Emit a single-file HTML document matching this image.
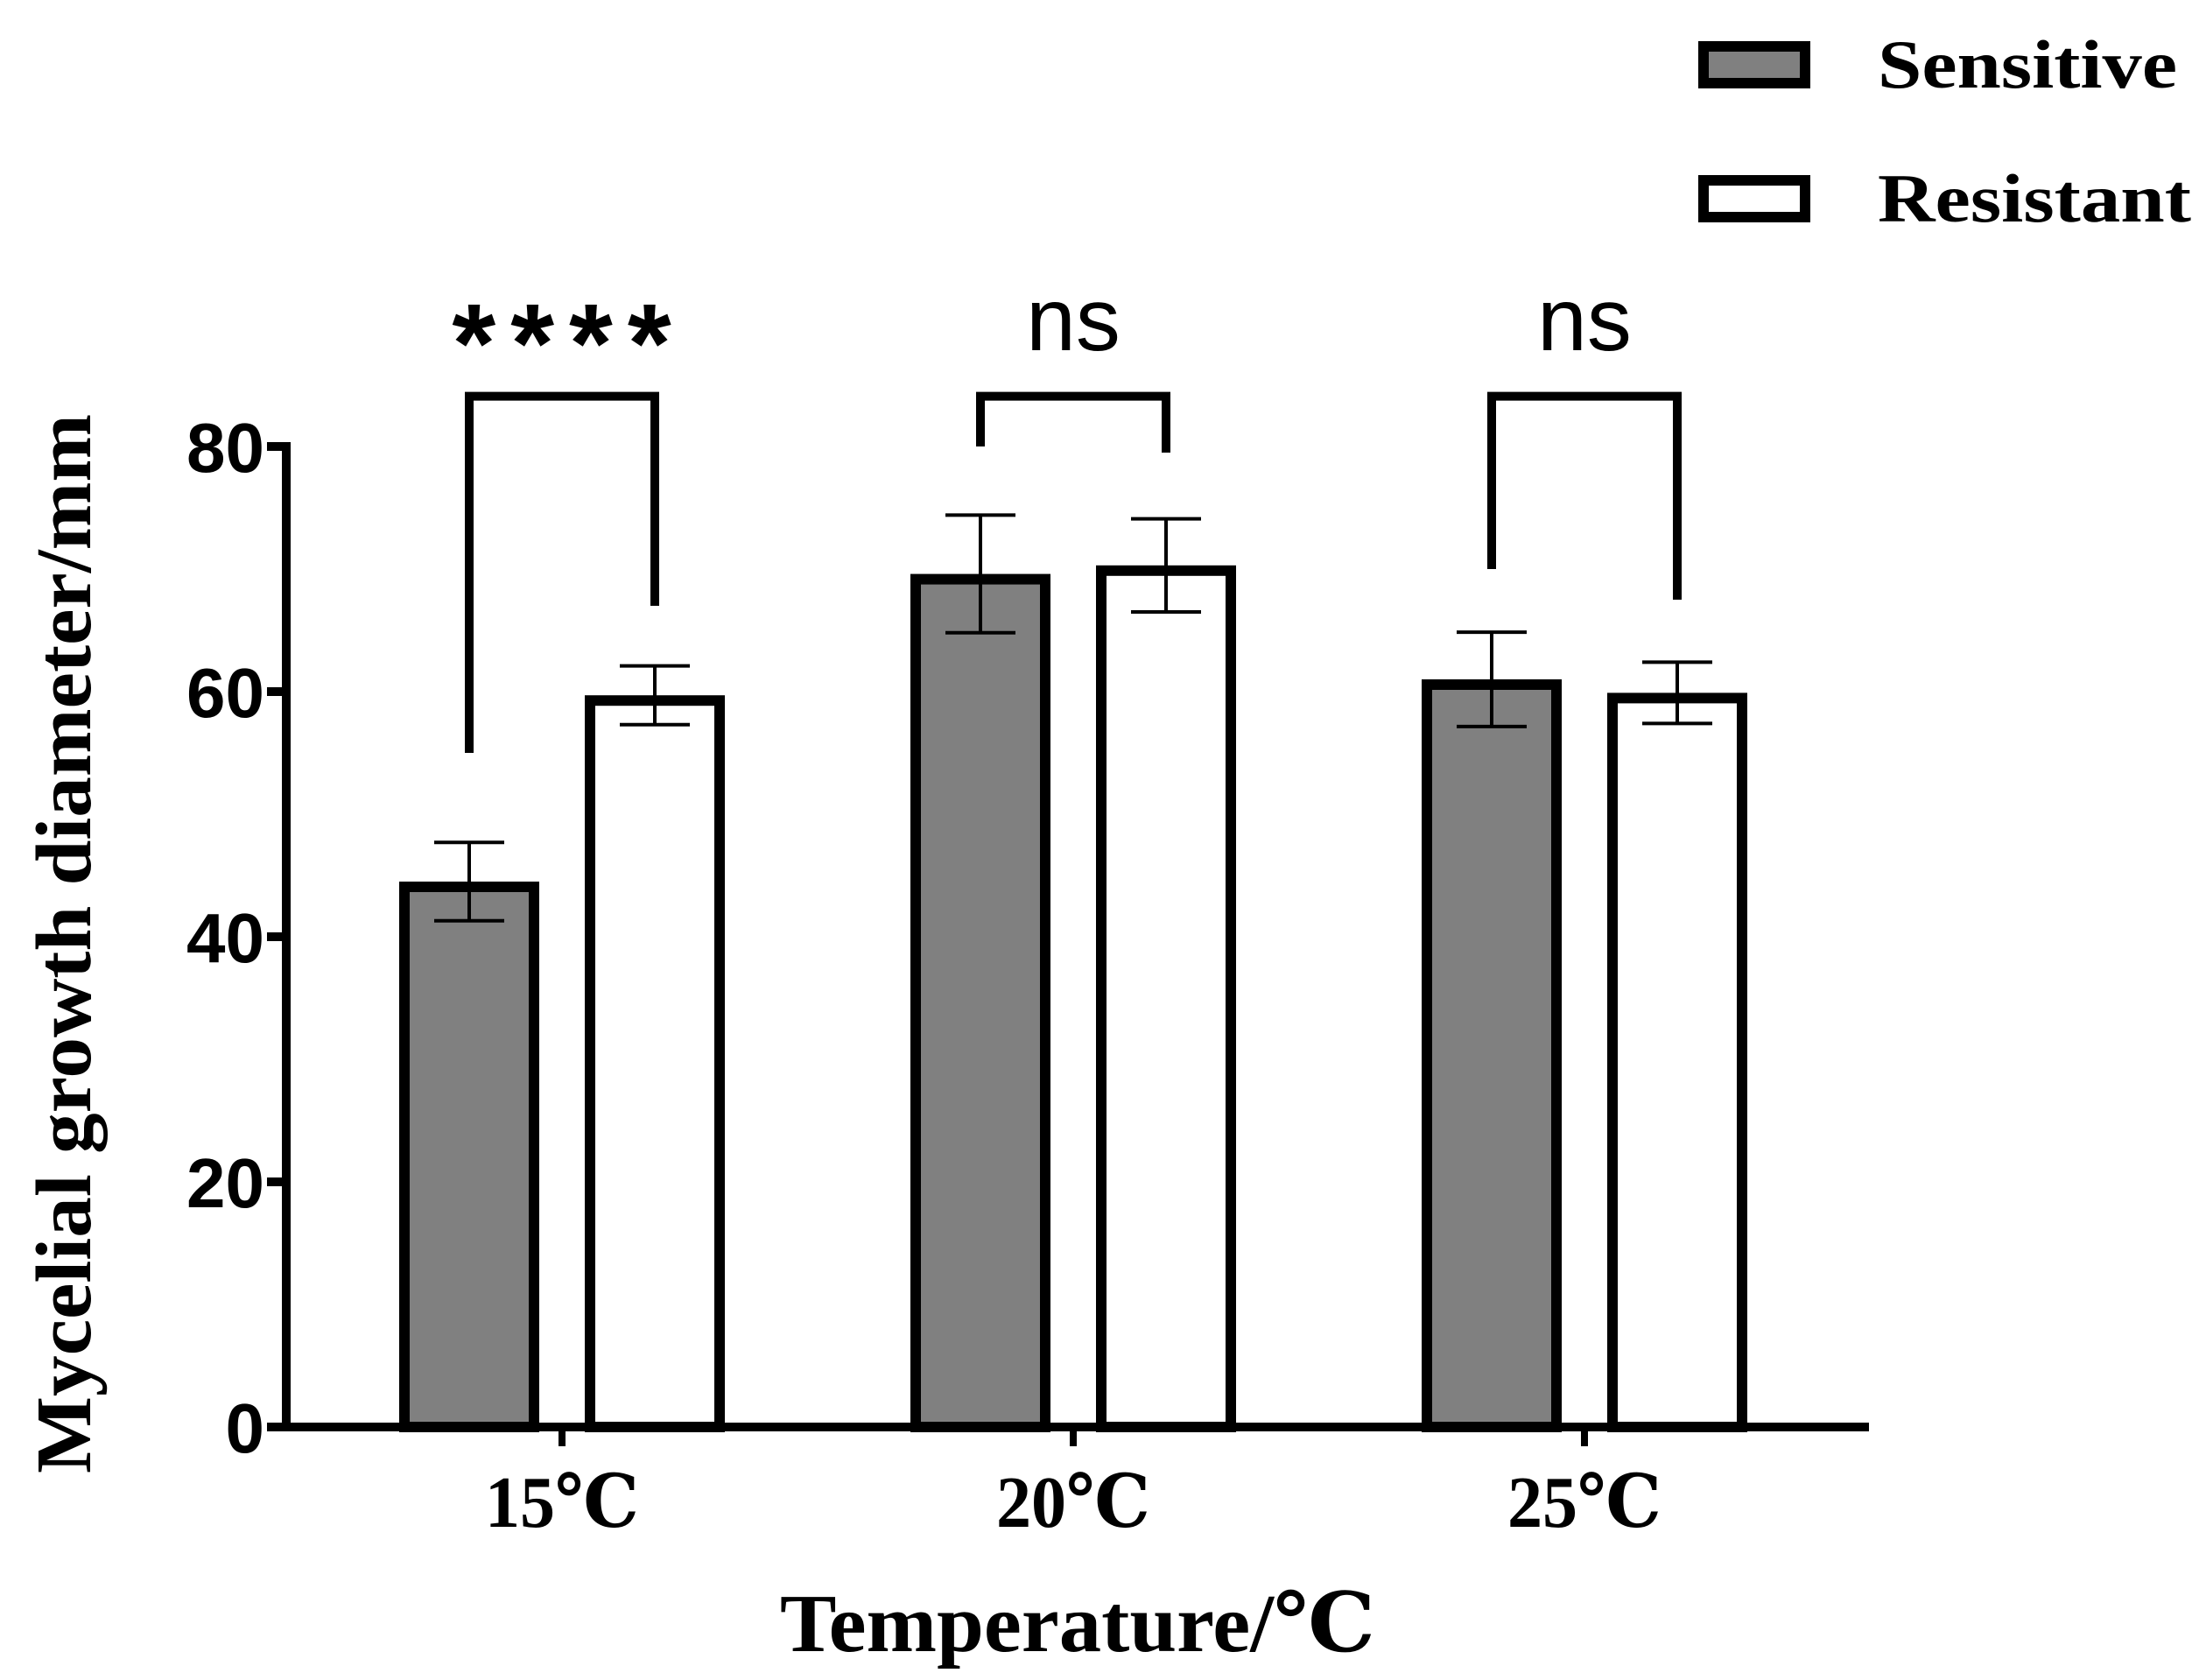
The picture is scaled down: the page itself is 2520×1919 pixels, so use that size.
<!DOCTYPE html>
<html><head><meta charset="utf-8"><style>
html,body{margin:0;padding:0;background:#fff;}
svg{display:block;}
</style></head><body>
<svg id="chart" width="2520" height="1919" viewBox="0 0 2520 1919" xmlns="http://www.w3.org/2000/svg">
<g id="legend">
  <g>
    <rect x="1946" y="53" width="116" height="42" fill="#808080" stroke="#000" stroke-width="12"/>
    <text x="2145" y="100" font-family="Liberation Serif, serif" font-weight="bold" font-size="78" textLength="342" lengthAdjust="spacingAndGlyphs">Sensitive</text>
  </g>
  <g>
    <rect x="1946" y="206" width="116" height="42" fill="#fff" stroke="#000" stroke-width="12"/>
    <text x="2145" y="253" font-family="Liberation Serif, serif" font-weight="bold" font-size="78" textLength="358" lengthAdjust="spacingAndGlyphs">Resistant</text>
  </g>
</g>
<g id="plot"></g>
<text transform="translate(103,1078) rotate(-90)" text-anchor="middle" font-family="Liberation Serif, serif" font-weight="bold" font-size="90" textLength="1210" lengthAdjust="spacingAndGlyphs">Mycelial growth diameter/mm</text>
<text x="1231" y="1886" text-anchor="middle" font-family="Liberation Serif, DejaVu Serif, serif" font-weight="bold" font-size="94" textLength="680" lengthAdjust="spacingAndGlyphs">Temperature/℃</text>
</svg>
<script>
const categories = ['15℃', '20℃', '25℃'];
const sensitive = [44.5, 69.6, 61.0];
const sensitiveErr = [3.2, 4.8, 3.85];
const resistant = [59.7, 70.3, 59.9];
const resistantErr = [2.4, 3.8, 2.5];
const yTicks = [0, 20, 40, 60, 80];
const sigLabels = ['****', 'ns', 'ns'];
const bracketLeft = [55, 80, 70];
const bracketRight = [67, 79.5, 67.5];
const bracketTop = 84.1;

const NS = 'http://www.w3.org/2000/svg';
const plot = document.getElementById('plot');
const X0 = 327, X1 = 2135, Y0 = 1630, PXU = 14;
const groupStart = 642, groupStep = 584;
const y = v => Y0 - v * PXU;
const xc = i => groupStart + i * groupStep;
const BW = 160, OFF = 106;
function mk(tag, attrs) { const e = document.createElementNS(NS, tag); for (const k in attrs) e.setAttribute(k, attrs[k]); plot.appendChild(e); return e; }

categories.forEach((c, i) => {
  const cx = xc(i);
  [[sensitive, sensitiveErr, -1, '#808080', 'sensitive'], [resistant, resistantErr, 1, '#fff', 'resistant']].forEach(([vals, errs, side, fill, nm]) => {
    const bx = cx + side * OFF;
    const r = mk('rect', { x: bx - BW / 2 + 6, y: y(vals[i]) + 6, width: BW - 12, height: Y0 - y(vals[i]) - 6, fill: fill, stroke: '#000', 'stroke-width': 12 });
    
    
    const e1 = mk('line', { x1: bx, x2: bx, y1: y(vals[i] + errs[i]), y2: y(vals[i] - errs[i]), stroke: '#000', 'stroke-width': 4 });
    
    
    [errs[i], -errs[i]].forEach(d => {
      const cap = mk('line', { x1: bx - 40, x2: bx + 40, y1: y(vals[i] + d), y2: y(vals[i] + d), stroke: '#000', 'stroke-width': 4 });
      
      
    });
  });
  const lx = cx - OFF, rx = cx + OFF;
  const br = mk('path', { d: `M${lx} ${y(bracketLeft[i])} V${y(bracketTop)} H${rx} V${y(bracketRight[i])}`, fill: 'none', stroke: '#000', 'stroke-width': 10 });
  
  
  if (sigLabels[i] === 'ns') {
    const st = mk('text', { x: cx, y: 400, 'text-anchor': 'middle', 'font-family': 'Liberation Sans, sans-serif', 'font-size': 102 });
    st.textContent = sigLabels[i];
    
    
  } else {
    const st = mk('text', { x: cx, y: 436, 'text-anchor': 'middle', 'font-family': 'Liberation Sans, sans-serif', 'font-size': 128, 'font-weight': 'bold', 'letter-spacing': 17 });
    st.textContent = sigLabels[i];
    
    
    st.setAttribute('transform', 'translate(8,0)');
  }
  const tk = mk('line', { x1: cx, x2: cx, y1: Y0, y2: Y0 + 22, stroke: '#000', 'stroke-width': 8 });
  
  
  const tl = mk('text', { x: cx, y: 1744, 'text-anchor': 'middle', 'font-family': 'Liberation Serif, DejaVu Serif, serif', 'font-weight': 'bold', 'font-size': 84, textLength: 176, lengthAdjust: 'spacingAndGlyphs' });
  tl.textContent = c;
  
  
});

yTicks.forEach(v => {
  const t = mk('line', { x1: X0 - 22, x2: X0, y1: y(v), y2: y(v), stroke: '#000', 'stroke-width': 10 });
  
  
  const l = mk('text', { x: 302, y: y(v) + 29, 'text-anchor': 'end', 'font-family': 'Liberation Sans, sans-serif', 'font-weight': 'bold', 'font-size': 80 });
  l.textContent = v;
  
  
});
const ya = mk('line', { x1: X0, x2: X0, y1: y(80) - 5, y2: Y0 + 5, stroke: '#000', 'stroke-width': 10 });


const xa = mk('line', { x1: X0 - 5, x2: X1, y1: Y0, y2: Y0, stroke: '#000', 'stroke-width': 10 });


</script>
</body></html>
